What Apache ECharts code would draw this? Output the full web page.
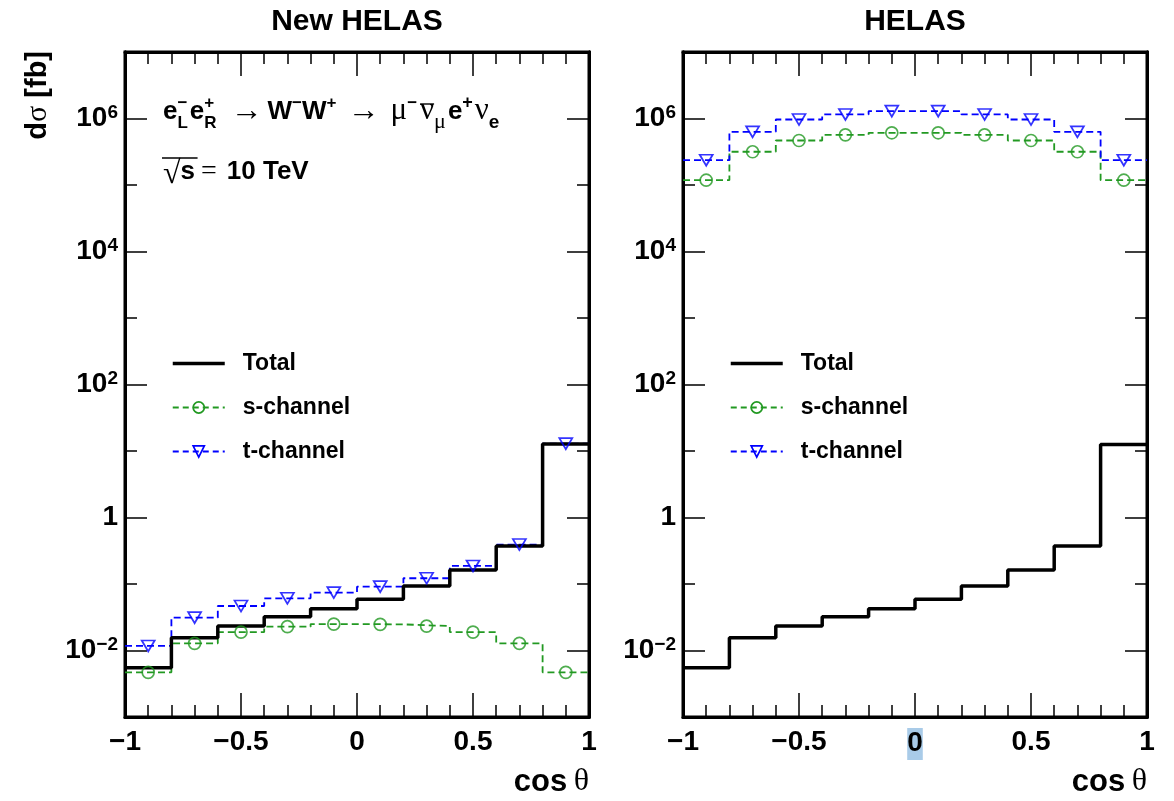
<!DOCTYPE html>
<html>
<head>
<meta charset="utf-8">
<title>dsigma / dcos theta, WW</title>
<script src="https://cdn.jsdelivr.net/npm/echarts@6/dist/echarts.min.js"></script>
<style>
html, body { margin: 0; padding: 0; background: #fff; }
#chart { width: 1174px; height: 801px; }
</style>
</head>
<body>
<div id="chart"></div>
<script>
// cos(theta) bin edges, 10 bins of 0.2
const binEdges = [-1, -0.8, -0.6, -0.4, -0.2, 0, 0.2, 0.4, 0.6, 0.8, 1];

// New HELAS (left), d sigma in fb
const newTotal = [0.0055, 0.0156, 0.0233, 0.0323, 0.0426, 0.0589, 0.0933, 0.163, 0.373, 12.7];
const newS = [0.0047, 0.0128, 0.0189, 0.0228, 0.025, 0.0247, 0.0233, 0.0189, 0.0128, 0.0047];
const newT = [0.0117, 0.0312, 0.0467, 0.061, 0.0742, 0.0913, 0.122, 0.187, 0.392, 12.9];

// HELAS (right)
const oldTotal = [0.0055, 0.0156, 0.0233, 0.0323, 0.0426, 0.0589, 0.0933, 0.163, 0.373, 12.5];
const oldS = [1.18e5, 3.16e5, 4.67e5, 5.68e5, 6.1e5, 6.1e5, 5.68e5, 4.67e5, 3.16e5, 1.18e5];
const oldT = [2.36e5, 6.3e5, 9.66e5, 1.15e6, 1.29e6, 1.29e6, 1.15e6, 9.66e5, 6.3e5, 2.36e5];

const panelTitles = ['New HELAS', 'HELAS'];
const legendNames = ['Total', 's-channel', 't-channel'];

const SANS = '"Liberation Sans", Arial, Helvetica, sans-serif';
const SERIF = '"Liberation Serif", "Times New Roman", serif';
const GREEN = '#229922';
const BLUE = '#0000ff';
const DASH = [7, 4];

const PLOT_W = 464, PLOT_TOP = 52, PLOT_H = 665;
const panels = [
  { left: 125, total: newTotal, s: newS, t: newT },
  { left: 683, total: oldTotal, s: oldS, t: oldT }
];

function stepData(vals) {
  const pts = vals.map((v, i) => [binEdges[i], v]);
  pts.push([binEdges[binEdges.length - 1], vals[vals.length - 1]]);
  return pts;
}
function centerData(vals) {
  return vals.map((v, i) => [(binEdges[i] + binEdges[i + 1]) / 2, v]);
}

const tickStyle = { color: '#000', width: 1.5 };
const frameLine = { onZero: false, lineStyle: { color: '#000', width: 3 } };

function xAxisCfg(gi, pos, showLabels, highlightZero) {
  return {
    type: 'value', gridIndex: gi, position: pos, min: -1, max: 1, interval: 0.5,
    axisLine: frameLine,
    axisTick: { inside: true, length: 24, lineStyle: tickStyle },
    minorTick: { show: true, splitNumber: 5, length: 12, lineStyle: tickStyle },
    splitLine: { show: false },
    axisLabel: {
      show: showLabels, margin: 11, color: '#000',
      fontSize: 28, fontWeight: 'bold', fontFamily: SANS,
      formatter: v => {
        if (v === 0 && highlightZero) return '{hl|0}';
        return (v < 0 ? '\u2212' : '') + Math.abs(v);
      },
      rich: { hl: { backgroundColor: '#a9cbe8', fontSize: 28, fontWeight: 'bold', fontFamily: SANS, color: '#000', padding: [1, 0, 3, 0] } }
    }
  };
}

function yAxisCfg(gi, pos, base, tickLen, showLabels) {
  const cfg = {
    type: 'log', logBase: base, gridIndex: gi, position: pos, min: 1e-3, max: 1e7,
    axisLine: frameLine,
    axisTick: { inside: true, length: tickLen, lineStyle: tickStyle },
    splitLine: { show: false },
    axisLabel: {
      show: showLabels, margin: 7, color: '#000',
      formatter: v => {
        const l = Math.log10(v), e = Math.round(l);
        if (Math.abs(l - e) > 1e-6 || e % 2 !== 0) return '';
        if (e === 0) return '{n|1}';
        return '{n|10}{sup|' + (e < 0 ? '\u2212' + (-e) : e) + '}';
      },
      rich: {
        n: { fontSize: 28, fontWeight: 'bold', fontFamily: SANS, color: '#000', lineHeight: 30 },
        sup: { fontSize: 19, fontWeight: 'bold', fontFamily: SANS, color: '#000', verticalAlign: 'top', lineHeight: 19, padding: [0, 0, 14, 0] }
      }
    }
  };
  if (base === 10) cfg.interval = 1;
  return cfg;
}

const grids = [], xAxes = [], yAxes = [], series = [], legends = [];
panels.forEach((p, i) => {
  grids.push({ left: p.left, top: PLOT_TOP, width: PLOT_W, height: PLOT_H, show: true, borderColor: '#000', borderWidth: 3, containLabel: false });
  xAxes.push(xAxisCfg(i, 'bottom', true, i === 1));
  xAxes.push(xAxisCfg(i, 'top', false, false));
  yAxes.push(yAxisCfg(i, 'left', 10, 12, false));
  yAxes.push(yAxisCfg(i, 'left', 100, 22, true));
  yAxes.push(yAxisCfg(i, 'right', 10, 12, false));
  yAxes.push(yAxisCfg(i, 'right', 100, 22, false));

  const xi = 2 * i, yi = 4 * i;
  series.push({
    name: 's-channel', type: 'line', step: 'end', xAxisIndex: xi, yAxisIndex: yi,
    data: stepData(p.s), symbol: 'circle', showSymbol: false, z: 3,
    lineStyle: { color: GREEN, width: 1.8, type: DASH },
    itemStyle: { color: 'rgba(0,0,0,0)', borderColor: GREEN, borderWidth: 1.7 }
  });
  series.push({
    name: 't-channel', type: 'line', step: 'end', xAxisIndex: xi, yAxisIndex: yi,
    data: stepData(p.t), symbol: 'triangle', symbolRotate: 180, showSymbol: false, z: 3,
    lineStyle: { color: BLUE, width: 1.8, type: DASH },
    itemStyle: { color: 'rgba(0,0,0,0)', borderColor: BLUE, borderWidth: 1.7 }
  });
  series.push({
    name: 'Total', type: 'line', step: 'end', xAxisIndex: xi, yAxisIndex: yi,
    data: stepData(p.total), symbol: 'none', z: 4,
    lineStyle: { color: '#000', width: 3.5 }, itemStyle: { color: '#000' }
  });
  series.push({
    name: 's-markers', type: 'scatter', xAxisIndex: xi, yAxisIndex: yi, z: 6,
    data: centerData(p.s), symbol: 'circle', symbolSize: 12,
    itemStyle: { color: 'rgba(0,0,0,0)', borderColor: GREEN, borderWidth: 1.7 }
  });
  series.push({
    name: 't-markers', type: 'scatter', xAxisIndex: xi, yAxisIndex: yi, z: 6,
    data: centerData(p.t), symbol: 'triangle', symbolRotate: 180, symbolSize: [13, 11],
    itemStyle: { color: 'rgba(0,0,0,0)', borderColor: BLUE, borderWidth: 1.7 }
  });

  legends.push({
    orient: 'vertical', left: p.left + 41, top: 347, itemWidth: 52, itemHeight: 14, itemGap: 21,
    selectedMode: false, iconRotate: 'inherit', symbolRotate: 'inherit',
    textStyle: { fontSize: 23, fontWeight: 'bold', fontFamily: SANS, color: '#000', lineHeight: 22, padding: [0, 0, 0, 13] },
    data: [
      { name: legendNames[0], itemStyle: { opacity: 0 }, lineStyle: { color: '#000', width: 3.5, type: 'solid' } },
      { name: legendNames[1], itemStyle: { color: 'rgba(0,0,0,0)', borderColor: GREEN, borderWidth: 1.7 }, lineStyle: { color: GREEN, width: 1.8, type: [6, 4] } },
      { name: legendNames[2], itemStyle: { color: 'rgba(0,0,0,0)', borderColor: BLUE, borderWidth: 1.7 }, lineStyle: { color: BLUE, width: 1.8, type: [6, 4] } }
    ]
  });
});

// ---- text annotations laid out piece by piece (sub/superscripts)
const measureCtx = document.createElement('canvas').getContext('2d');
function fontOf(kind, size) {
  return kind === 'b' ? 'bold ' + size + 'px ' + SANS : size + 'px ' + SERIF;
}
function textWidth(txt, font) {
  measureCtx.font = font;
  return measureCtx.measureText(txt).width;
}
// r: n normal, u superscript, us superscript stacked over the next subscript, d subscript, g gap
function layoutFormula(tokens, x0, baseline, size, els) {
  let x = x0, stackW = 0;
  tokens.forEach(tk => {
    if (tk.r === 'g') { x += tk.w; return; }
    const fs = tk.fs || (tk.r === 'n' ? size : Math.round(size * 0.64));
    const font = fontOf(tk.k, fs);
    const w = textWidth(tk.t, font);
    let b = baseline + (tk.dy || 0);
    if (tk.r === 'u' || tk.r === 'us') b = baseline - size * 0.45;
    if (tk.r === 'd') b = baseline + size * 0.33;
    els.push({ type: 'text', x: x, y: b - fs * 0.34, z: 10,
      style: { text: tk.t, font: font, fill: '#000', align: 'left', verticalAlign: 'middle', textAlign: 'left', textVerticalAlign: 'middle' } });
    if (tk.bar) {
      els.push({ type: 'line', z: 10, shape: { x1: x + tk.bar[0], y1: baseline - tk.bar[1], x2: x + w + tk.bar[2], y2: baseline - tk.bar[1] },
        style: { stroke: '#000', lineWidth: 1.4 } });
    }
    if (tk.r === 'us') { stackW = w; return; }
    if (tk.r === 'd' && stackW) { x += Math.max(w, stackW) + 2; stackW = 0; return; }
    x += w;
  });
}

const graphics = [];
panelTitles.forEach((t, i) => {
  graphics.push({ type: 'text', x: panels[i].left + PLOT_W / 2, y: 22, z: 10,
    style: { text: t, font: 'bold 30px ' + SANS, fill: '#000', align: 'center', verticalAlign: 'middle', textAlign: 'center', textVerticalAlign: 'middle' } });
  graphics.push({ type: 'text', x: panels[i].left + PLOT_W, y: 782, z: 10,
    style: { text: '{b|cos}{s|\u2009\u03b8}', align: 'right', verticalAlign: 'middle', textAlign: 'right', textVerticalAlign: 'middle',
      rich: { b: { font: 'bold 31px ' + SANS, fill: '#000', color: '#000' }, s: { font: '32px ' + SERIF, fill: '#000', color: '#000' } } } });
});
graphics.push({ type: 'text', x: 38, y: 51, rotation: Math.PI / 2, z: 10,
  style: { text: '{b|d}{s|\u03c3}{b| [fb]}', align: 'right', verticalAlign: 'middle', textAlign: 'right', textVerticalAlign: 'middle',
    rich: { b: { font: 'bold 29px ' + SANS, fill: '#000', color: '#000' }, s: { font: '30px ' + SERIF, fill: '#000', color: '#000' } } } });

const SZ = 26;
layoutFormula([
  { t: 'e', k: 'b', r: 'n' }, { t: '\u2212', k: 'b', r: 'us' }, { t: 'L', k: 'b', r: 'd' },
  { t: 'e', k: 'b', r: 'n' }, { t: '+', k: 'b', r: 'us' }, { t: 'R', k: 'b', r: 'd' },
  { r: 'g', w: 12 }, { t: '\u2192', k: 's', r: 'n', fs: 32, dy: 1 }, { r: 'g', w: 5 },
  { t: 'W', k: 'b', r: 'n' }, { t: '\u2212', k: 'b', r: 'u' }, { t: 'W', k: 'b', r: 'n' }, { t: '+', k: 'b', r: 'u' },
  { r: 'g', w: 11 }, { t: '\u2192', k: 's', r: 'n', fs: 32, dy: 1 }, { r: 'g', w: 11 },
  { t: '\u03bc', k: 's', r: 'n', fs: 31 }, { t: '\u2212', k: 'b', r: 'u' }, { r: 'g', w: 3 },
  { t: '\u03bd', k: 's', r: 'n', fs: 31, bar: [0, 17, 0] }, { t: '\u03bc', k: 's', r: 'd', fs: 22 }, { r: 'g', w: 2 },
  { t: 'e', k: 'b', r: 'n' }, { t: '+', k: 'b', r: 'u', fs: 18 }, { r: 'g', w: 2 },
  { t: '\u03bd', k: 's', r: 'n', fs: 31 }, { t: 'e', k: 'b', r: 'd', fs: 19 }
], 163, 121, SZ, graphics);

layoutFormula([
  { t: '\u221a', k: 's', r: 'n', fs: 32, dy: 4, bar: [-1, 23, 17] }, { t: 's', k: 'b', r: 'n' },
  { r: 'g', w: 6 }, { t: '=', k: 's', r: 'n', fs: 28 }, { r: 'g', w: 10 }, { t: '10 TeV', k: 'b', r: 'n' }
], 163, 181, SZ, graphics);

const chart = echarts.init(document.getElementById('chart'));
chart.setOption({
  animation: false,
  backgroundColor: '#fff',
  grid: grids,
  xAxis: xAxes,
  yAxis: yAxes,
  legend: legends,
  series: series,
  graphic: graphics
});
</script>
</body>
</html>
